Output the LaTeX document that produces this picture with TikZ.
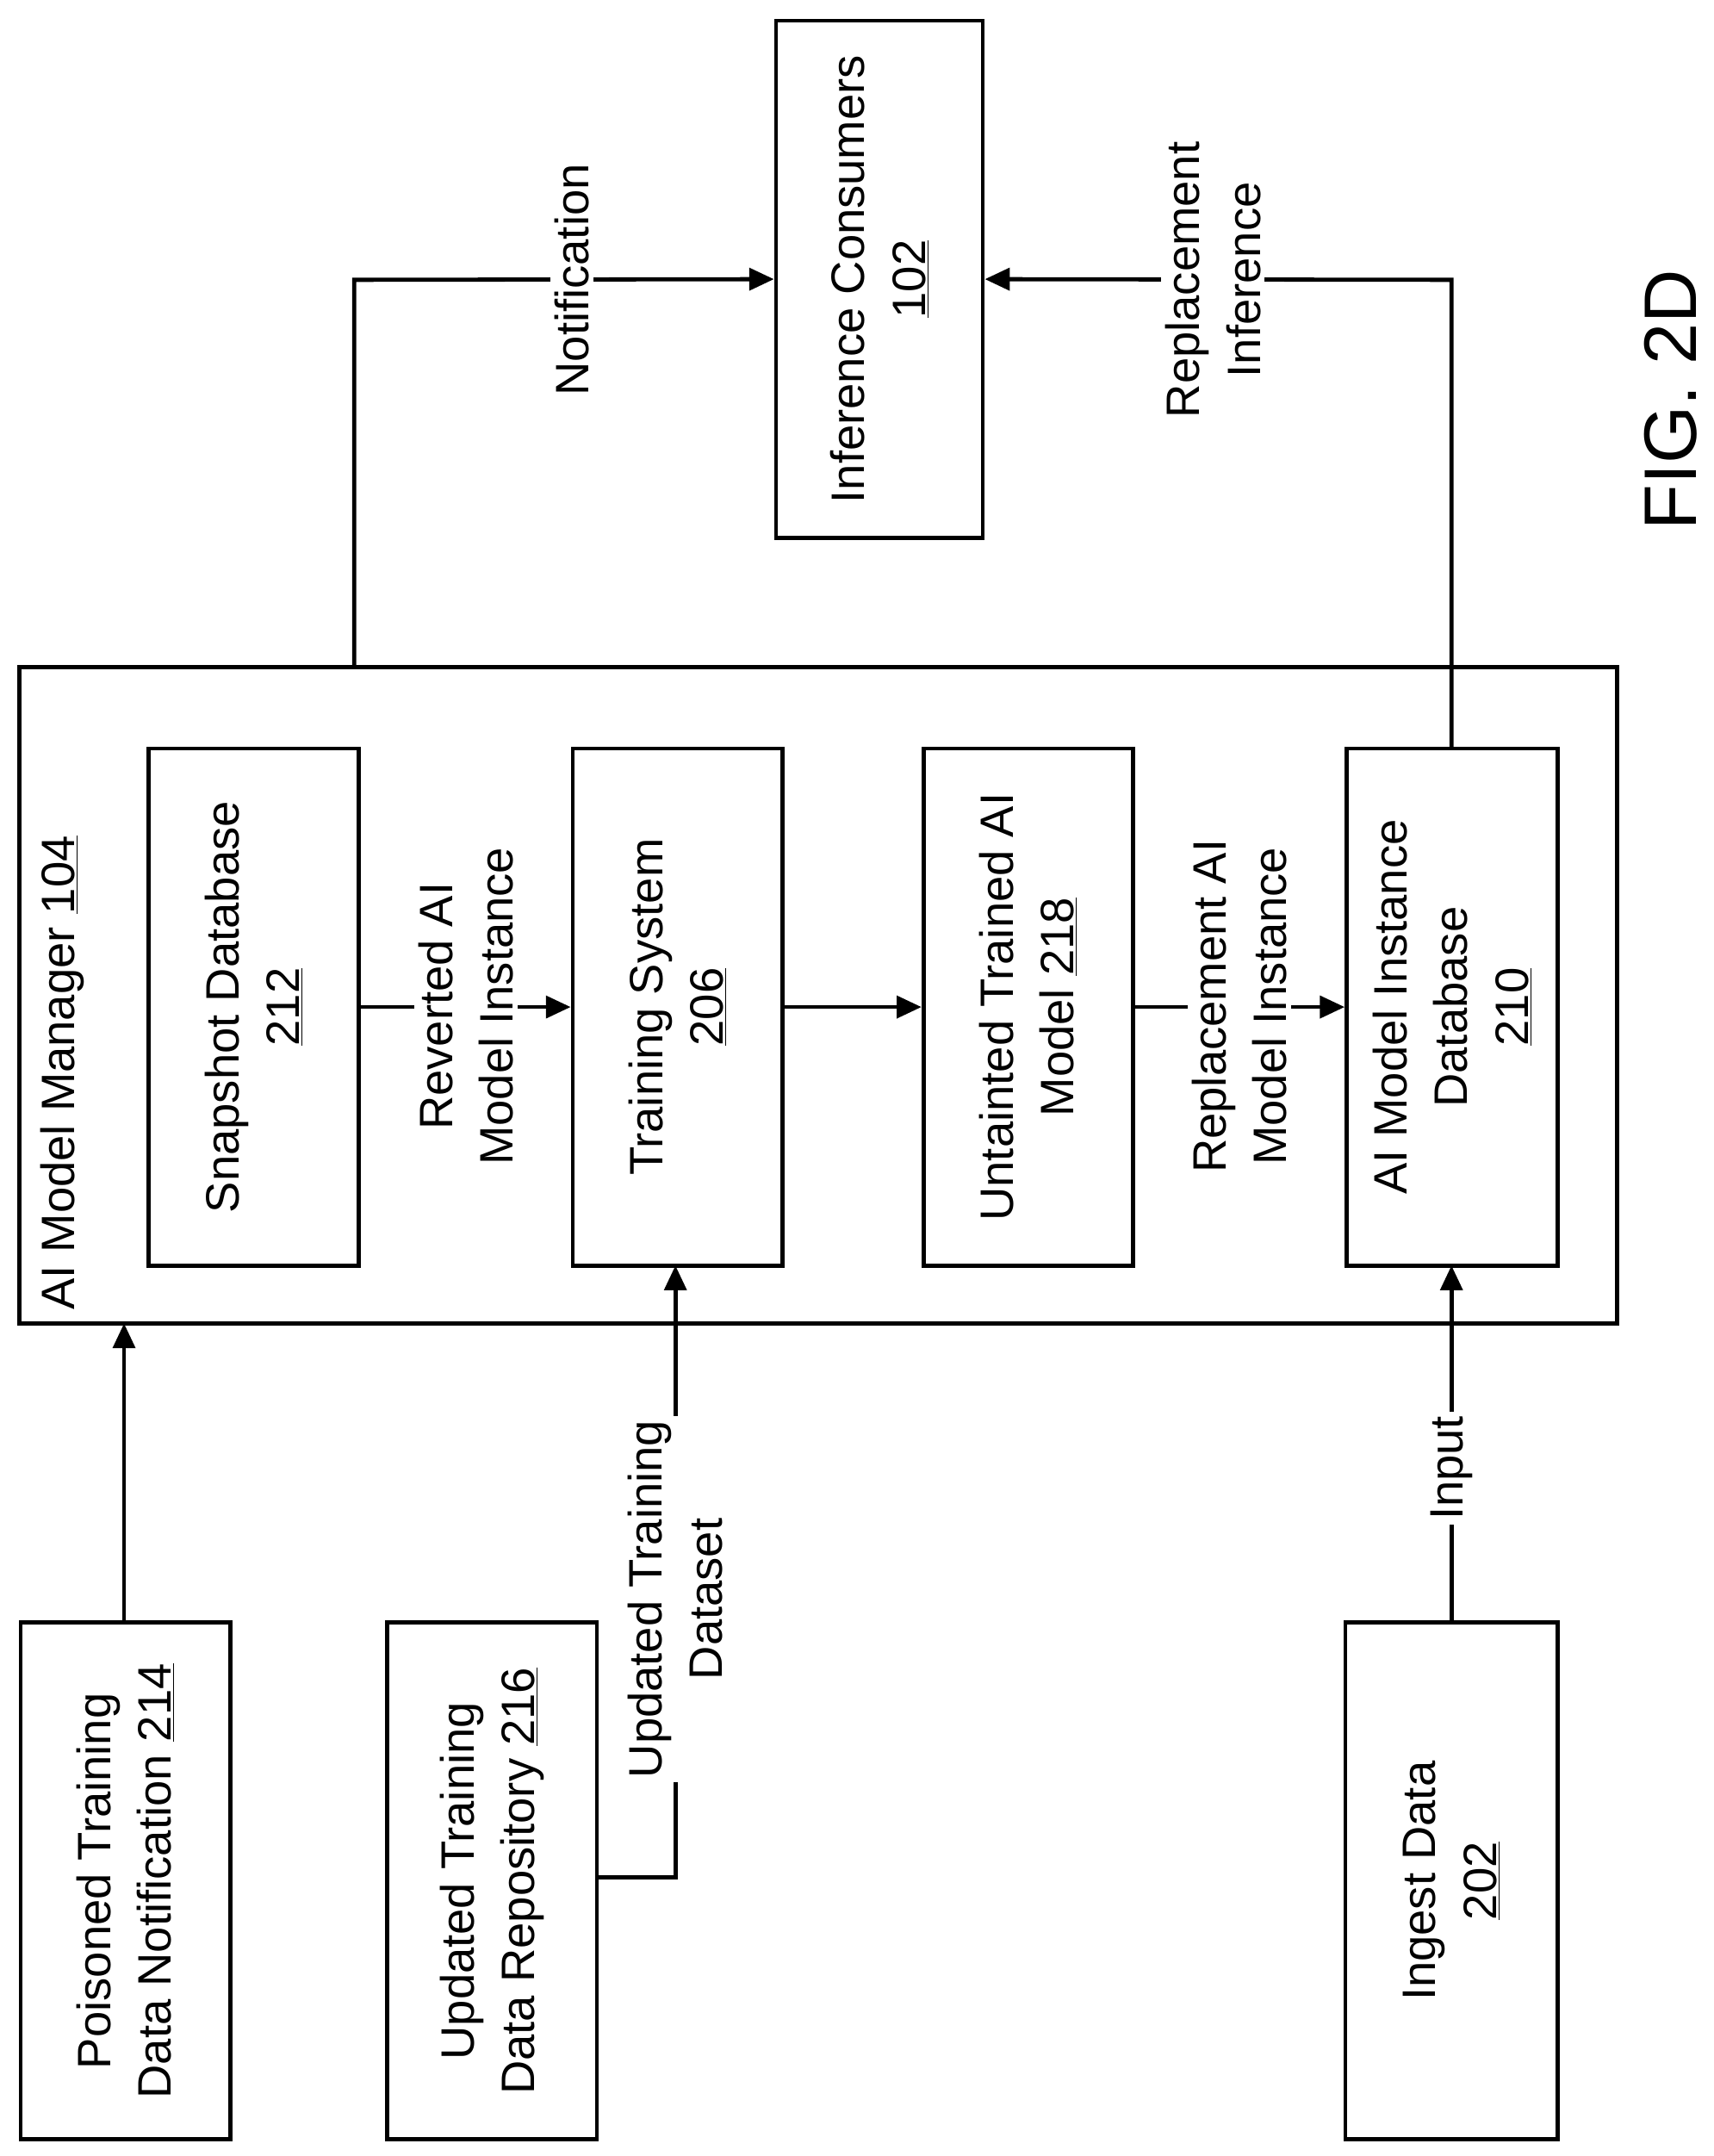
\documentclass[tikz,border=0pt]{standalone}
\usepackage{fontspec}
\setmainfont{Liberation Sans}
\usetikzlibrary{arrows.meta}
\begin{document}
\begin{tikzpicture}[x=1pt,y=-1pt,line width=3pt,
  every node/.style={font=\fontsize{34}{44}\selectfont},
  box/.style={draw,rotate=90,minimum width=375pt,minimum height=152pt,align=center,inner sep=0pt},
  lbl/.style={rotate=90,fill=white,align=center,inner sep=3pt},
  arr/.style={-{Triangle[length=18pt,width=16pt]}}]
\useasboundingbox (0,0) rectangle (1243,1564);
\node[draw,minimum width=1159pt,minimum height=476pt,inner sep=0pt] (mgr) at (593.5,722) {};
\node[rotate=90,anchor=west] (mgrl) at (45,955) {AI Model Manager \underline{104}};
\node[box,minimum height=150pt] (ic) at (638,202.5) {Inference Consumers\\\underline{102}};
\node[box] (snap) at (184,730.5) {Snapshot Database\\\underline{212}};
\node[box] (ts) at (491.5,730.5) {Training System\\\underline{206}};
\node[box] (ut) at (746,730.5) {Untainted Trained AI\\Model \underline{218}};
\node[box,minimum height=153pt] (db) at (1053.5,730.5) {AI Model Instance\\Database\\\underline{210}};
\node[box] (pt) at (91,1364.5) {Poisoned Training\\Data Notification \underline{214}};
\node[box] (ur) at (357,1364.5) {Updated Training\\Data Repository \underline{216}};
\node[box,minimum height=154pt] (ing) at (1053,1364.5) {Ingest Data\\\underline{202}};
\node[rotate=90,font=\fontsize{54}{60}\selectfont] (fig) at (1212,290) {FIG. 2D};
% connectors
\coordinate (pt0) at (90,1177);
\draw[arr] (pt0) -- (90,960);
\coordinate (ur0) at (433,1362);
\draw[arr] (ur0) -- (490,1362) -- (490,918);
\node[lbl] at (490,1160) {Updated Training\\Dataset};
\draw[arr] (1053,1177) -- (1053,918);
\node[lbl] at (1053,1065) {Input};
\draw[arr] (snap.south) -- (ts.north);
\node[lbl] at (338,730) {Reverted AI\\Model Instance};
\draw[arr] (ts.south) -- (ut.north);
\draw[arr] (ut.south) -- (db.north);
\node[lbl] at (899,730) {Replacement AI\\Model Instance};
\draw[arr] (257,484) -- (257,203) -- (ic.north);
\node[lbl] at (415,203) {Notification};
\draw[arr] (1053,543) -- (1053,203) -- (ic.south);
\node[lbl] at (880,203) {Replacement\\Inference};
\end{tikzpicture}
\end{document}
